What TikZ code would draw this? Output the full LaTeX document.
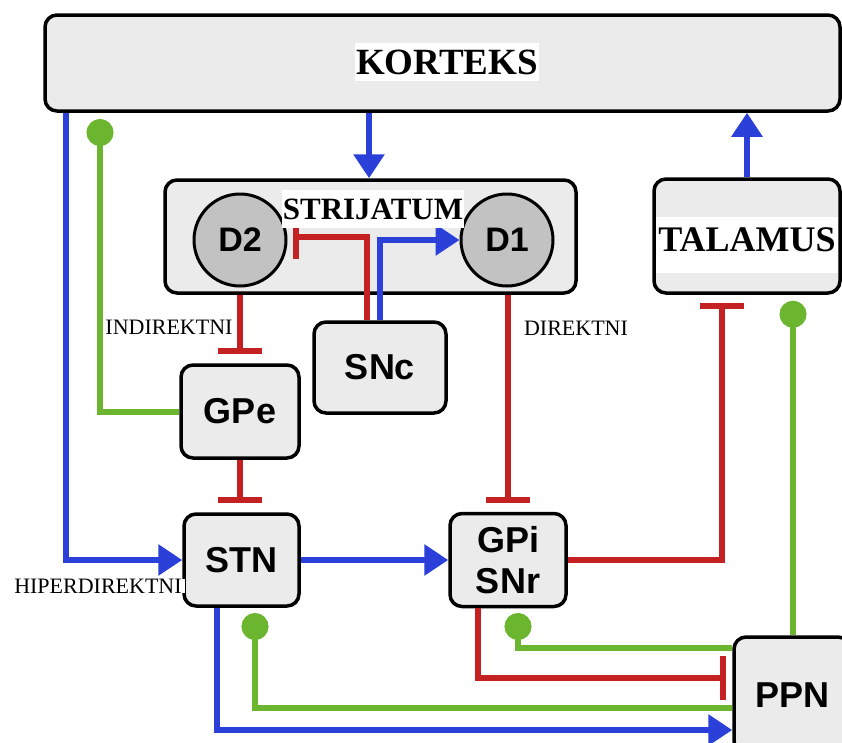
\documentclass[tikz,border=0pt]{standalone}
\usepackage{fontspec}
\setmainfont{Liberation Serif}
\newfontfamily\arialf{Liberation Sans}
\usetikzlibrary{arrows.meta,calc}
\definecolor{cblue}{HTML}{2B3FD9}
\definecolor{cred}{HTML}{C42222}
\definecolor{cgreen}{HTML}{6CB52E}
\definecolor{boxgray}{HTML}{EBEBEB}
\definecolor{cgray}{HTML}{C2C2C2}
\begin{document}
\begin{tikzpicture}[x=1pt,y=-1pt,
 nbox/.style={draw=black,line width=3.5pt,fill=boxgray,rounded corners=12pt,inner sep=0pt},
 ncirc/.style={circle,draw=black,line width=3pt,fill=cgray,minimum size=92pt,inner sep=0pt,font=\arialf\bfseries\fontsize{34}{38}\selectfont},
 nlab/.style={font=\arialf\bfseries\fontsize{36}{41}\selectfont,align=center},
 blab/.style={font=\bfseries\fontsize{37}{40}\selectfont,fill=white,inner xsep=1pt,inner ysep=0pt},
 plab/.style={font=\fontsize{22}{24}\selectfont,inner xsep=1pt,inner ysep=0pt},
 exc/.style={draw=cblue,line width=6pt,-{Triangle[length=24pt,width=30pt]}},
 inh/.style={draw=cred,line width=6pt,-{Bar[width=44pt]}},
 act/.style={draw=cgreen,line width=6pt,-{Circle[length=27pt]}},
]
\useasboundingbox (0,0) rectangle (842,742);
\clip (0,0) rectangle (842,742);

% boxes
\node[nbox,minimum width=795pt,minimum height=96pt] (kort) at (442.5,63) {};
\node[nbox,minimum width=411pt,minimum height=113pt] (str) at (370.5,236.5) {};
\node[ncirc] (d2) at (240,240) {D2};
\node[ncirc] (d1) at (507,240) {D1};
\node[nbox,nlab,minimum width=132pt,minimum height=91pt] (snc) at (380,367.5) {SNc};
\node[nbox,nlab,minimum width=118pt,minimum height=93pt] (gpe) at (240,411.5) {GPe};
\node[nbox,nlab,minimum width=115pt,minimum height=92pt] (stn) at (241.5,560) {STN};
\node[nbox,nlab,minimum width=116pt,minimum height=93pt] (gpi) at (508,560) {GPi\\SNr};
\node[nbox,minimum width=186pt,minimum height=114pt] (tal) at (747,236) {};
\node[nbox,nlab,minimum width=116pt,minimum height=116pt] (ppn) at (792,695) {PPN};

% named end points
\coordinate (kdot) at (100,119);
\coordinate (d2bar) at (293,237);
\coordinate (ppnbar) at (726,678);
\coordinate (gpidot) at (518,613);
\coordinate (stndot) at (255,613);

% connectors
\draw[exc] (369,0 |- kort.south) -- (369,0 |- str.north);
\draw[exc] (tal.north) -- (tal.north |- kort.south);
\draw[exc] (66,0 |- kort.south) |- (stn.west);
\draw[act] (gpe.west) -| (kdot);
\draw[inh] (gpe.north |- str.south) -- ($(gpe.north)+(0,-9)$);
\draw[inh] (367,0 |- snc.north) |- (d2bar);
\draw[exc] (380,0 |- snc.north) |- (d1.west);
\draw[inh] (gpi.north |- str.south) -- ($(gpi.north)+(0,-9)$);
\draw[inh] (gpe.south) -- ($(gpe.south |- stn.north)+(0,-9)$);
\draw[exc] (stn.east) -- (gpi.west);
\draw[inh] (gpi.east) -| ($(722,0 |- tal.south)+(0,8)$);
\draw[act] (793,0 |- ppn.north) -- ($(793,0 |- tal.south)+(0,6)$);
\draw[inh] (478,0 |- gpi.south) |- (ppnbar);
\draw[act] (ppn.west |- 0,648) -| (gpidot);
\draw[act] (ppn.west |- 0,708) -| (stndot);
\draw[exc] (217,0 |- stn.south) |- (ppn.west |- 0,730);

% labels
\node[blab,minimum height=38pt] (kortl) at (447,62) {KORTEKS};
\node[blab,minimum height=38pt,font=\bfseries\fontsize{31}{34}\selectfont] (strl) at (373,209) {STRIJATUM};
\node[blab,minimum width=182pt,minimum height=56pt,text depth=10pt,font=\bfseries\fontsize{36}{40}\selectfont] (tall) at (747,245) {TALAMUS};
\node[plab,fill=white,minimum height=35pt] (indl) at (169,327) {INDIREKTNI};
\node[plab] (dirl) at (576,328) {DIREKTNI};
\node[plab,fill=white,inner xsep=3pt] (hypl) at (98,586) {HIPERDIREKTNI};
\end{tikzpicture}
\end{document}
